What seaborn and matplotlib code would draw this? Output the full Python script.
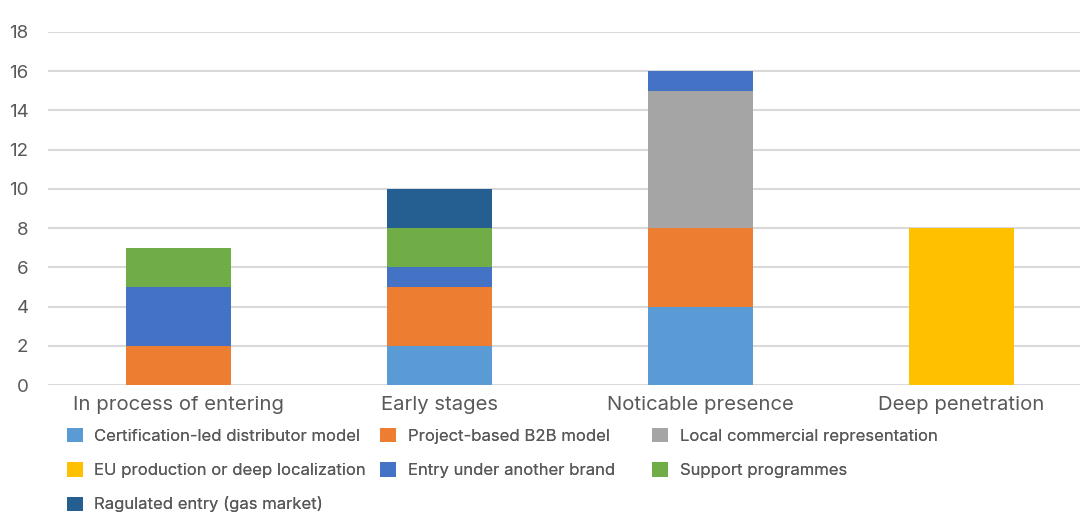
import numpy as np
import pandas as pd
import matplotlib
matplotlib.use("Agg")
import matplotlib.pyplot as plt
import seaborn as sns
from matplotlib.patches import Patch

categories = ["In process of entering", "Early stages", "Noticable presence", "Deep penetration"]
cert = [0, 2, 4, 0]
project = [2, 3, 4, 0]
local = [0, 0, 7, 0]
eu = [0, 0, 0, 8]
entry = [3, 1, 1, 0]
support = [2, 2, 0, 0]
regulated = [0, 2, 0, 0]
yticks = [0, 2, 4, 6, 8, 10, 12, 14, 16, 18]

# stacking order bottom to top
stack = [
    ("Certification-led distributor model", cert, "#5B9BD5"),
    ("Project-based B2B model", project, "#ED7D31"),
    ("Local commercial representation", local, "#A5A5A5"),
    ("EU production or deep localization", eu, "#FFC000"),
    ("Entry under another brand", entry, "#4472C4"),
    ("Support programmes", support, "#70AD47"),
    ("Ragulated entry (gas market)", regulated, "#255E91"),
]

sns.set_style("white")
plt.rcParams["font.family"] = ["Inter", "DejaVu Sans"]

fig = plt.figure(figsize=(10.8, 5.14), dpi=100)
ax = fig.add_axes([48 / 1080, 1 - 385 / 514, (1080 - 48) / 1080, 353 / 514])

bottom = np.zeros(len(categories))
for name, vals, col in stack:
    df = pd.DataFrame({"cat": categories, "val": vals})
    sns.barplot(data=df, x="cat", y="val", order=categories, color=col,
                saturation=1, width=0.40, bottom=bottom.copy(), linewidth=0,
                ax=ax, zorder=3)
    bottom += np.array(vals)

ax.set_xlim(-0.5, 3.454)
ax.set_ylim(0, 18)
ax.set_yticks(yticks)
ax.set_yticklabels([str(t) for t in yticks], fontsize=13.5, color="#595959")
ax.yaxis.grid(True, color="#D9D9D9", linewidth=1.5, zorder=0)
ax.xaxis.grid(False)
for s in ax.spines.values():
    s.set_visible(False)
ax.tick_params(axis="y", length=0, pad=14)
ax.tick_params(axis="x", length=0, pad=8)
ax.set_xticks(range(len(categories)))
ax.set_xticklabels(categories, fontsize=14.6, color="#595959")
ax.set_xlabel("")
ax.set_ylabel("")
ax.set_axisbelow(True)

handles = {name: Patch(facecolor=col, edgecolor="none") for name, _, col in stack}
columns = [
    (67, ["Certification-led distributor model", "EU production or deep localization",
          "Ragulated entry (gas market)"]),
    (380, ["Project-based B2B model", "Entry under another brand"]),
    (652, ["Local commercial representation", "Support programmes"]),
]
for xpx, names in columns:
    leg = fig.legend([handles[n] for n in names], names, loc="upper left",
                     bbox_to_anchor=(xpx / 1080, 1 - 428 / 514), frameon=False,
                     borderpad=0, borderaxespad=0,
                     fontsize=12, labelcolor="#595959", handlelength=0.95,
                     handleheight=0.95, handletextpad=0.7, labelspacing=1.1)
    fig.add_artist(leg)

fig.savefig("out.png", dpi=100)
